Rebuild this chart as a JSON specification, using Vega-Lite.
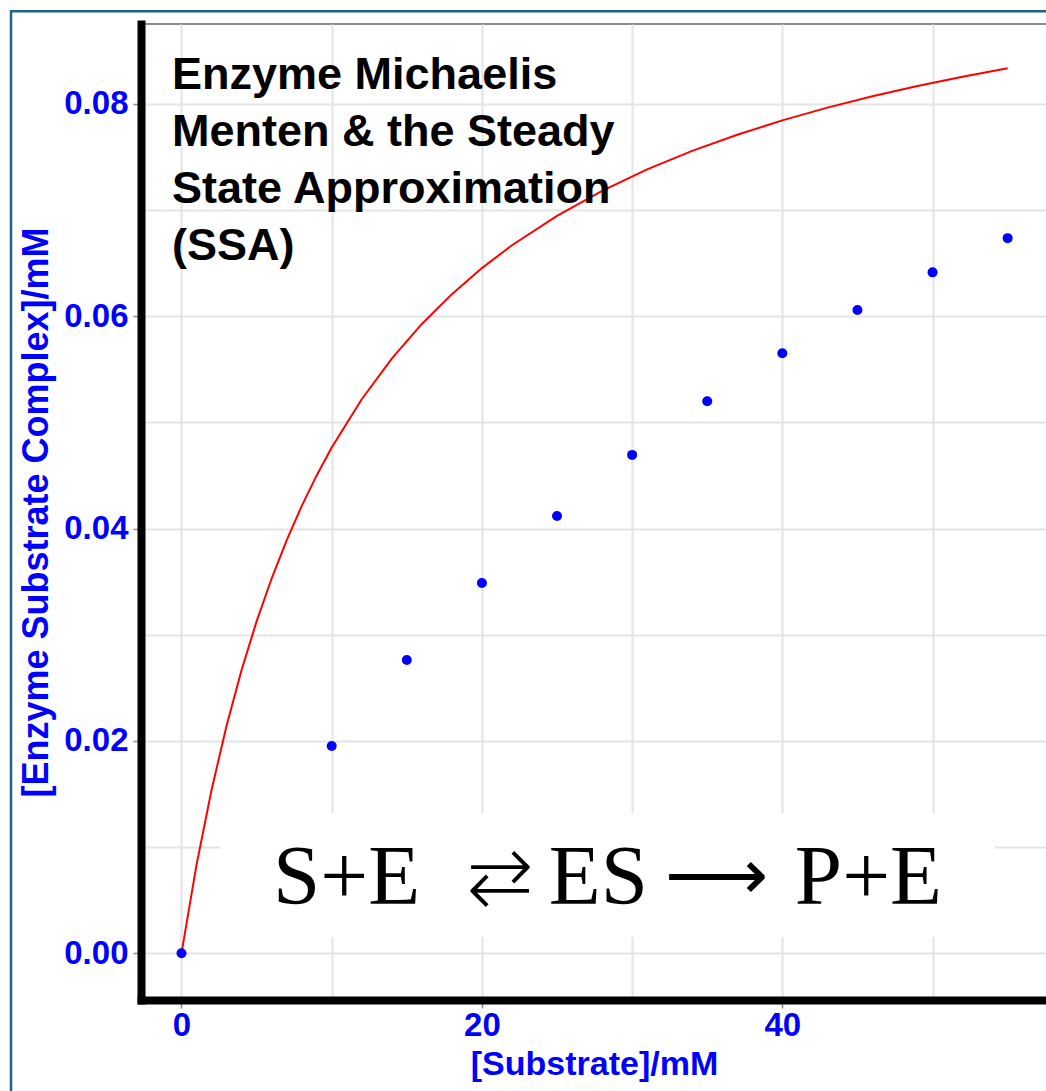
{
  "$schema": "https://vega.github.io/schema/vega-lite/v6.json",
  "width": 906,
  "height": 976,
  "autosize": "none",
  "padding": {"left": 141, "top": 24, "right": 0, "bottom": 91},
  "background": "white",
  "datasets": {
    "points": [
      {"substrate": 0, "es": 0.0},
      {"substrate": 10, "es": 0.01952},
      {"substrate": 15, "es": 0.02762},
      {"substrate": 20, "es": 0.03487},
      {"substrate": 25, "es": 0.04118},
      {"substrate": 30, "es": 0.04693},
      {"substrate": 35, "es": 0.05198},
      {"substrate": 40, "es": 0.05650},
      {"substrate": 45, "es": 0.06058},
      {"substrate": 50, "es": 0.06412},
      {"substrate": 55, "es": 0.06734}
    ],
    "curve": [
      {"substrate": 0, "es": 0.0},
      {"substrate": 1, "es": 0.00833},
      {"substrate": 2, "es": 0.01538},
      {"substrate": 3, "es": 0.02143},
      {"substrate": 4, "es": 0.02667},
      {"substrate": 5, "es": 0.03125},
      {"substrate": 6, "es": 0.03529},
      {"substrate": 7, "es": 0.03889},
      {"substrate": 8, "es": 0.04211},
      {"substrate": 9, "es": 0.045},
      {"substrate": 10, "es": 0.04762},
      {"substrate": 12, "es": 0.05217},
      {"substrate": 14, "es": 0.056},
      {"substrate": 16, "es": 0.05926},
      {"substrate": 18, "es": 0.06207},
      {"substrate": 20, "es": 0.06452},
      {"substrate": 22, "es": 0.06667},
      {"substrate": 25, "es": 0.06944},
      {"substrate": 28, "es": 0.07179},
      {"substrate": 31, "es": 0.07381},
      {"substrate": 34, "es": 0.07556},
      {"substrate": 37, "es": 0.07708},
      {"substrate": 40, "es": 0.07843},
      {"substrate": 43, "es": 0.07963},
      {"substrate": 46, "es": 0.0807},
      {"substrate": 49, "es": 0.08167},
      {"substrate": 52, "es": 0.08254},
      {"substrate": 55, "es": 0.08333}
    ]
  },
  "layer": [
    {
      "data": {"values": [{}]},
      "mark": {"type": "rect", "fill": null, "fillOpacity": 0, "stroke": "#1d6488", "strokeWidth": 2.5, "clip": false},
      "encoding": {
        "x": {"datum": -11.35, "type": "quantitative", "scale": {"domain": [-2.696, 57.62], "nice": false, "zero": false}},
        "x2": {"datum": 62},
        "y": {"datum": 0.0887, "type": "quantitative", "scale": {"domain": [-0.004397, 0.087505], "nice": false, "zero": false}},
        "y2": {"datum": -0.03}
      }
    },
    {
      "data": {"values": [{}]},
      "mark": {"type": "rect", "fill": "white", "stroke": null},
      "encoding": {
        "x": {"datum": 2.56, "type": "quantitative"},
        "x2": {"datum": 54.16},
        "y": {"datum": 0.00153, "type": "quantitative"},
        "y2": {"datum": 0.01321}
      }
    },
    {
      "data": {"name": "curve"},
      "mark": {"type": "line", "color": "#ff0000", "strokeWidth": 2},
      "encoding": {
        "x": {"field": "substrate", "type": "quantitative"},
        "y": {"field": "es", "type": "quantitative"}
      }
    },
    {
      "data": {"name": "points"},
      "mark": {"type": "point", "filled": true, "color": "#0000ff", "size": 100, "opacity": 1, "shape": "circle"},
      "encoding": {
        "x": {
          "field": "substrate", "type": "quantitative",
          "scale": {"domain": [-2.696, 57.62], "nice": false, "zero": false},
          "axis": {
            "title": "[Substrate]/mM",
            "values": [0, 10, 20, 30, 40, 50],
            "format": "d",
            "labelExpr": "datum.value % 20 === 0 ? datum.label : ''",
            "tickOpacity": {"condition": {"test": "datum.value % 20 === 0", "value": 1}, "value": 0},
            "tickSize": 8,
            "labelPadding": 1,
            "titlePadding": 5
          }
        },
        "y": {
          "field": "es", "type": "quantitative",
          "scale": {"domain": [-0.004397, 0.087505], "nice": false, "zero": false},
          "axis": {
            "title": "[Enzyme Substrate Complex]/mM",
            "values": [0, 0.01, 0.02, 0.03, 0.04, 0.05, 0.06, 0.07, 0.08],
            "format": ".2f",
            "labelExpr": "round(datum.value * 100) % 2 === 0 ? datum.label : ''",
            "tickOpacity": {"condition": {"test": "round(datum.value * 100) % 2 === 0", "value": 1}, "value": 0},
            "tickSize": 8,
            "labelPadding": 5,
            "titlePadding": 8,
            "titleFontSize": 36
          }
        }
      }
    },
    {
      "data": {"values": [{}]},
      "mark": {"type": "text", "text": ["Enzyme Michaelis", "Menten & the Steady", "State Approximation", "(SSA)"], "font": "Liberation Sans", "fontWeight": "bold", "fontSize": 45, "lineHeight": 57, "align": "left", "baseline": "alphabetic", "color": "black"},
      "encoding": {
        "x": {"datum": -0.63, "type": "quantitative"},
        "y": {"datum": 0.08136, "type": "quantitative"}
      }
    },
    {
      "data": {"values": [{}]},
      "mark": {"type": "text", "text": "S+E", "font": "Liberation Serif", "fontSize": 85, "align": "left", "baseline": "alphabetic", "color": "black"},
      "encoding": {
        "x": {"datum": 6.09, "type": "quantitative"},
        "y": {"datum": 0.004642, "type": "quantitative"}
      }
    },
    {
      "data": {"values": [{}]},
      "mark": {"type": "text", "text": "⇄", "font": "DejaVu Sans", "fontWeight": 200, "fontSize": 80, "align": "center", "baseline": "alphabetic", "color": "black"},
      "encoding": {
        "x": {"datum": 21.2, "type": "quantitative"},
        "y": {"datum": 0.004642, "type": "quantitative"}
      }
    },
    {
      "data": {"values": [{}]},
      "mark": {"type": "text", "text": "ES", "font": "Liberation Serif", "fontSize": 85, "align": "center", "baseline": "alphabetic", "color": "black"},
      "encoding": {
        "x": {"datum": 27.75, "type": "quantitative"},
        "y": {"datum": 0.004642, "type": "quantitative"}
      }
    },
    {
      "data": {"values": [{}]},
      "mark": {"type": "text", "text": "⟶", "font": "DejaVu Sans", "fontWeight": 200, "fontSize": 72, "align": "center", "baseline": "alphabetic", "color": "black"},
      "encoding": {
        "x": {"datum": 35.6, "type": "quantitative"},
        "y": {"datum": 0.00500, "type": "quantitative"}
      }
    },
    {
      "data": {"values": [{}]},
      "mark": {"type": "text", "text": "P+E", "font": "Liberation Serif", "fontSize": 85, "align": "right", "baseline": "alphabetic", "color": "black"},
      "encoding": {
        "x": {"datum": 50.63, "type": "quantitative"},
        "y": {"datum": 0.004642, "type": "quantitative"}
      }
    }
  ],
  "config": {
    "view": {"stroke": "#8c8c8c", "strokeWidth": 2},
    "axis": {
      "domainColor": "black",
      "domainWidth": 8,
      "domainCap": "square",
      "grid": true,
      "gridColor": "#e4e4e4",
      "gridWidth": 2,
      "tickColor": "#8a8a8a",
      "tickWidth": 1.5,
      "labelFont": "Liberation Sans",
      "labelFontWeight": "bold",
      "labelFontSize": 33,
      "labelColor": "#0000ff",
      "titleFont": "Liberation Sans",
      "titleFontWeight": "bold",
      "titleFontSize": 34,
      "titleColor": "#0000ff",
      "labelOverlap": false,
      "labelFlush": false
    }
  }
}
